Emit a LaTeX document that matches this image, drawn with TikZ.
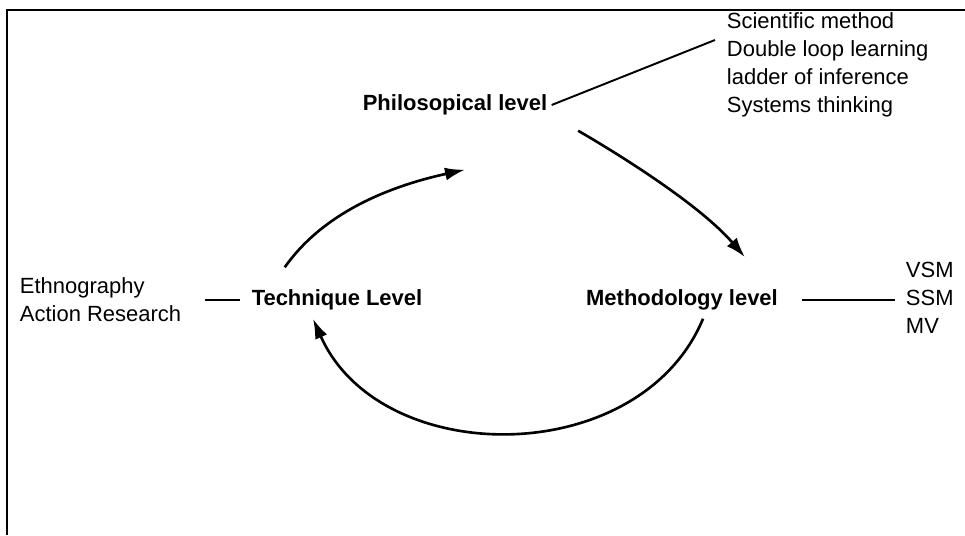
\documentclass[tikz,border=0pt]{standalone}
\usepackage{fontspec}
\setmainfont{Liberation Sans}
\usetikzlibrary{arrows.meta}

\begin{document}
\begin{tikzpicture}[line width=1.1pt,
  level/.style={font=\fontsize{12.5}{16}\selectfont\bfseries, inner sep=2pt},
  tools/.style={font=\fontsize{12.5}{16}\selectfont, align=left, inner sep=0pt},
  cyc/.style={line width=1.5pt, -{Latex[length=4mm,width=2.6mm]}}]

  \useasboundingbox (0,0) rectangle (19.3,10.7);

  % ---- frame, cut off at right and bottom ----
  \draw (0.14,0) -- (0.14,10.5) -- (19.3,10.5);

  % ---- the three levels ----
  \node[level] (phil) at (9.1,8.6) {Philosopical level};
  \node[level] (tech) at (6.74,4.7) {Technique Level};
  \node[level] (meth) at (13.64,4.7) {Methodology level};

  % ---- what sits at each level ----
  \node[tools, anchor=west] (philtools) at (14.52,9.4)
    {Scientific method\\Double loop learning\\ladder of inference\\Systems thinking};
  \node[tools, anchor=west] (techtools) at (0.38,4.7)
    {Ethnography\\Action Research};
  \node[tools, anchor=west] (methtools) at (18.1,4.74)
    {VSM\\SSM\\MV};

  \draw (phil.east) -- ([shift={(-0.22,0.5)}]philtools.west);
  \draw[shorten <=0.46cm, shorten >=0.14cm] (techtools.east) -- (tech.west);
  \draw[shorten <=0.39cm, shorten >=0.2cm] (meth.east) -- (meth.east -| methtools.west);

  % ---- the cycle between levels ----
  \draw[cyc] ([shift={(0.75,0.36)}]tech.north west)
    .. controls (6.5,6.5) and (7.9,7.0) .. ([shift={(0.2,-1.0)}]phil.south);
  \draw[cyc] ([shift={(0.53,-0.22)}]phil.south east)
    .. controls (12.4,7.6) and (14.0,6.6) .. ([shift={(1.26,0.56)}]meth.north);
  \draw[cyc] ([shift={(0.42,-0.08)}]meth.south)
    .. controls (12.8,1.3) and (7.6,1.3) .. ([shift={(-0.48,-0.08)}]tech.south);

\end{tikzpicture}
\end{document}
